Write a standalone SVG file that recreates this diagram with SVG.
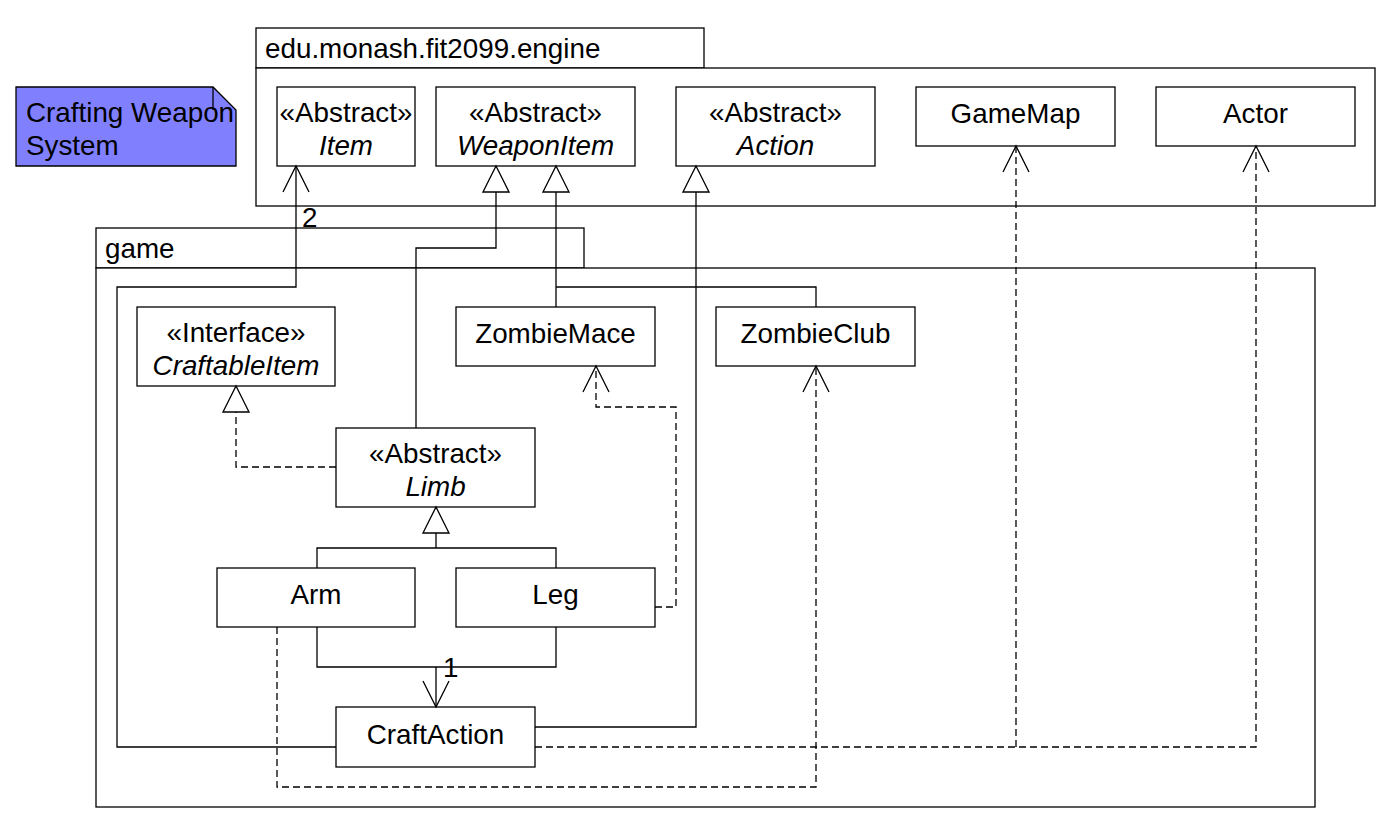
<svg xmlns="http://www.w3.org/2000/svg" width="1398" height="838" viewBox="0 0 1398 838">
<style>
.b{fill:#fff;stroke:#000;stroke-width:1.3}
.t{font-family:"Liberation Sans",Arial,sans-serif;font-size:27.8px;fill:#000}
.c{text-anchor:middle}
.i{font-style:italic}
.l{fill:none;stroke:#000;stroke-width:1.3}
.d{fill:none;stroke:#000;stroke-width:1.3;stroke-dasharray:7 4}
.tri{fill:#fff;stroke:#000;stroke-width:1.3}
</style>
<rect width="1398" height="838" fill="#fff"/>
<g id="note">
<path d="M16,87 H213 L236,110 V166 H16 Z" fill="#8080ff" stroke="#000" stroke-width="1.3"/>
<path d="M213,87 V110" class="l"/>
<text class="t" x="26" y="122">Crafting Weapon</text>
<text class="t" x="26" y="155">System</text>
</g>
<g id="pkg-engine">
<rect class="b" x="256" y="28" width="448" height="40"/>
<rect class="b" x="256" y="68" width="1119" height="138"/>
<text class="t" x="265" y="58">edu.monash.fit2099.engine</text>
</g>
<g id="pkg-game">
<rect class="b" x="96" y="228" width="488" height="40"/>
<rect class="b" x="96" y="268" width="1219" height="539"/>
<text class="t" x="105" y="258">game</text>
</g>
<g id="Item"><rect class="b" x="277" y="87" width="138" height="79"/><text class="t c" x="346" y="122">«Abstract»</text><text class="t c i" x="346" y="155">Item</text></g>
<g id="WeaponItem"><rect class="b" x="436" y="87" width="199" height="79"/><text class="t c" x="535.5" y="122">«Abstract»</text><text class="t c i" x="535.5" y="155">WeaponItem</text></g>
<g id="Action"><rect class="b" x="676" y="87" width="199" height="79"/><text class="t c" x="775.5" y="122">«Abstract»</text><text class="t c i" x="775.5" y="155">Action</text></g>
<g id="GameMap"><rect class="b" x="916" y="87" width="199" height="59"/><text class="t c" x="1015.5" y="123">GameMap</text></g>
<g id="Actor"><rect class="b" x="1156" y="87" width="199" height="59"/><text class="t c" x="1255.5" y="123">Actor</text></g>
<g id="CraftableItem"><rect class="b" x="137" y="307" width="198" height="79"/><text class="t c" x="236" y="342">«Interface»</text><text class="t c i" x="236" y="375">CraftableItem</text></g>
<g id="ZombieMace"><rect class="b" x="456" y="307" width="199" height="59"/><text class="t c" x="555.5" y="343">ZombieMace</text></g>
<g id="ZombieClub"><rect class="b" x="716" y="307" width="199" height="59"/><text class="t c" x="815.5" y="343">ZombieClub</text></g>
<g id="Limb"><rect class="b" x="336" y="428" width="199" height="79"/><text class="t c" x="435.5" y="463">«Abstract»</text><text class="t c i" x="435.5" y="496">Limb</text></g>
<g id="Arm"><rect class="b" x="217" y="568" width="198" height="59"/><text class="t c" x="316" y="604">Arm</text></g>
<g id="Leg"><rect class="b" x="456" y="568" width="199" height="59"/><text class="t c" x="555.5" y="604">Leg</text></g>
<g id="CraftAction"><rect class="b" x="336" y="707" width="199" height="60"/><text class="t c" x="435.5" y="744">CraftAction</text></g>
<g id="connectors">
<path class="l" d="M336,747 H117 V287 H296 V166"/>
<path class="l" d="M283,192 L296,166 L309,192"/>
<text class="t" x="302" y="227">2</text>
<path class="l" d="M416,428 V248 H496 V192"/>
<path class="tri" d="M483,192 L496,166 L509,192 Z"/>
<path class="l" d="M556,307 V192 M556,287 H816 V307"/>
<path class="tri" d="M543,192 L556,166 L569,192 Z"/>
<path class="l" d="M535,727 H696 V192"/>
<path class="tri" d="M683,192 L696,166 L709,192 Z"/>
<path class="d" d="M535,747 H1256 V146"/>
<path class="d" d="M1016,747 V146"/>
<path class="l" d="M1003,172 L1016,146 L1029,172"/>
<path class="l" d="M1243,172 L1256,146 L1269,172"/>
<path class="d" d="M277,627 V787 H816 V366"/>
<path class="l" d="M803,392 L816,366 L829,392"/>
<path class="d" d="M655,607 H676 V407 H596 V366"/>
<path class="l" d="M583,392 L596,366 L609,392"/>
<path class="d" d="M336,467 H236 V412"/>
<path class="tri" d="M223,412 L236,386 L249,412 Z"/>
<path class="l" d="M436,533 V548 M317,568 V548 H556 V568"/>
<path class="tri" d="M423,533 L436,507 L449,533 Z"/>
<path class="l" d="M317,627 V667 H556 V627 M436,667 V707"/>
<path class="l" d="M423,681 L436,707 L449,681"/>
<text class="t" x="443" y="677">1</text>
</g>
</svg>
